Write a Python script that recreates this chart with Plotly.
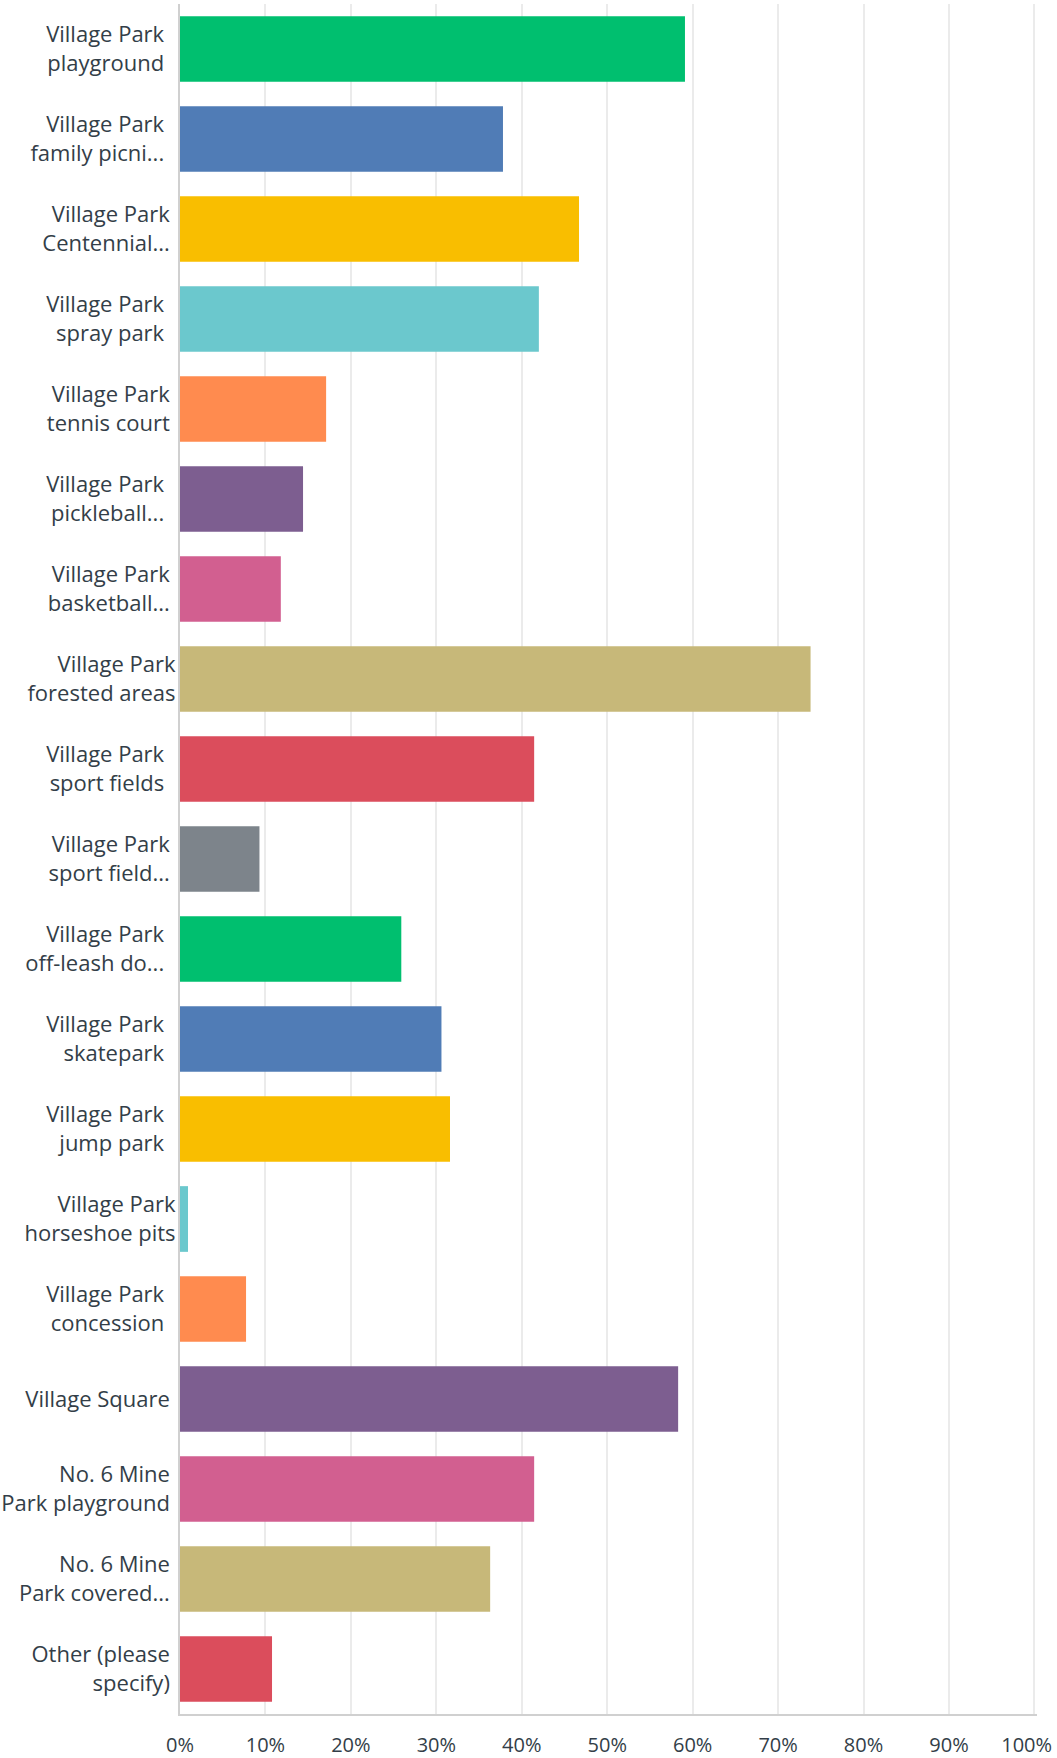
import plotly.graph_objects as go

NB = "\u00a0"

categories = [
    "Village Park<br>playground",
    "Village Park<br>family picni...",
    "Village Park<br>Centennial...",
    "Village Park<br>spray park",
    "Village Park<br>tennis court",
    "Village Park<br>pickleball...",
    "Village Park<br>basketball...",
    "Village Park<br>forested areas",
    "Village Park<br>sport fields",
    "Village Park<br>sport field...",
    "Village Park<br>off-leash do...",
    "Village Park<br>skatepark",
    "Village Park<br>jump park",
    "Village Park<br>horseshoe pits",
    "Village Park<br>concession",
    "Village Square",
    "No. 6 Mine<br>Park playground",
    "No. 6 Mine<br>Park covered...",
    "Other (please<br>specify)",
]

values = [59.1, 37.8, 46.7, 42.0, 17.1, 14.4, 11.8, 73.8, 41.45, 9.3,
          25.9, 30.6, 31.6, 0.94, 7.73, 58.3, 41.45, 36.3, 10.77]

x_ticks = [0, 10, 20, 30, 40, 50, 60, 70, 80, 90, 100]
x_tick_labels = ["0%", "10%", "20%", "30%", "40%", "50%", "60%", "70%", "80%", "90%", "100%"]

# style: colour cycle and trailing padding of labels (visual offsets)
palette = ["#00BF6F", "#507CB6", "#F9BE00", "#6BC8CD", "#FF8B4F",
           "#7D5E90", "#D25F90", "#C7B879", "#DB4D5C", "#7D848B"]
bar_colors = [palette[i % len(palette)] for i in range(len(categories))]
pad = [2, 2, 1, 2, 1, 2, 1, 0, 2, 1, 2, 2, 2, 0, 2, 1, 1, 1, 1]


def padded(label, n):
    parts = label.split("<br>")
    return "<br>".join(p + NB * n for p in parts)


display_labels = [padded(c, n) for c, n in zip(categories, pad)]
# last x tick label is nudged left so it stays inside the page
x_display = x_tick_labels[:-1] + [x_tick_labels[-1] + NB * 3]

fig = go.Figure(
    go.Bar(
        x=values,
        y=display_labels,
        orientation="h",
        marker=dict(color=bar_colors, line=dict(width=0)),
        width=0.73,
        hoverinfo="x+y",
    )
)

font_family = "Open Sans, Lato, sans-serif"
text_color = "#333E48"

fig.update_layout(
    width=1057,
    height=1758,
    margin=dict(l=180, r=20, t=4, b=44, autoexpand=False),
    paper_bgcolor="white",
    plot_bgcolor="white",
    showlegend=False,
    font=dict(family=font_family, color=text_color, size=22),
)

fig.update_xaxes(
    range=[0, 100.3],
    tickvals=x_ticks,
    ticktext=x_display,
    showgrid=True,
    gridcolor="#EBEBEB",
    gridwidth=1.5,
    zeroline=False,
    showline=True,
    linecolor="#D0D0D0",
    linewidth=2,
    ticks="",
    ticklabelstandoff=12,
    ticklabeloverflow="allow",
    automargin=False,
    tickfont=dict(size=20, color=text_color, family=font_family),
    fixedrange=True,
)

fig.update_yaxes(
    autorange="reversed",
    showgrid=False,
    zeroline=False,
    showline=True,
    linecolor="#D0D0D0",
    linewidth=2,
    ticks="",
    ticklabelstandoff=-2,
    automargin=False,
    tickfont=dict(size=22, color=text_color, family=font_family),
    fixedrange=True,
)

fig.write_html(
    "out.html",
    config={"displayModeBar": False},
    post_script="document.body.style.margin='0';document.body.style.overflow='hidden';",
)
